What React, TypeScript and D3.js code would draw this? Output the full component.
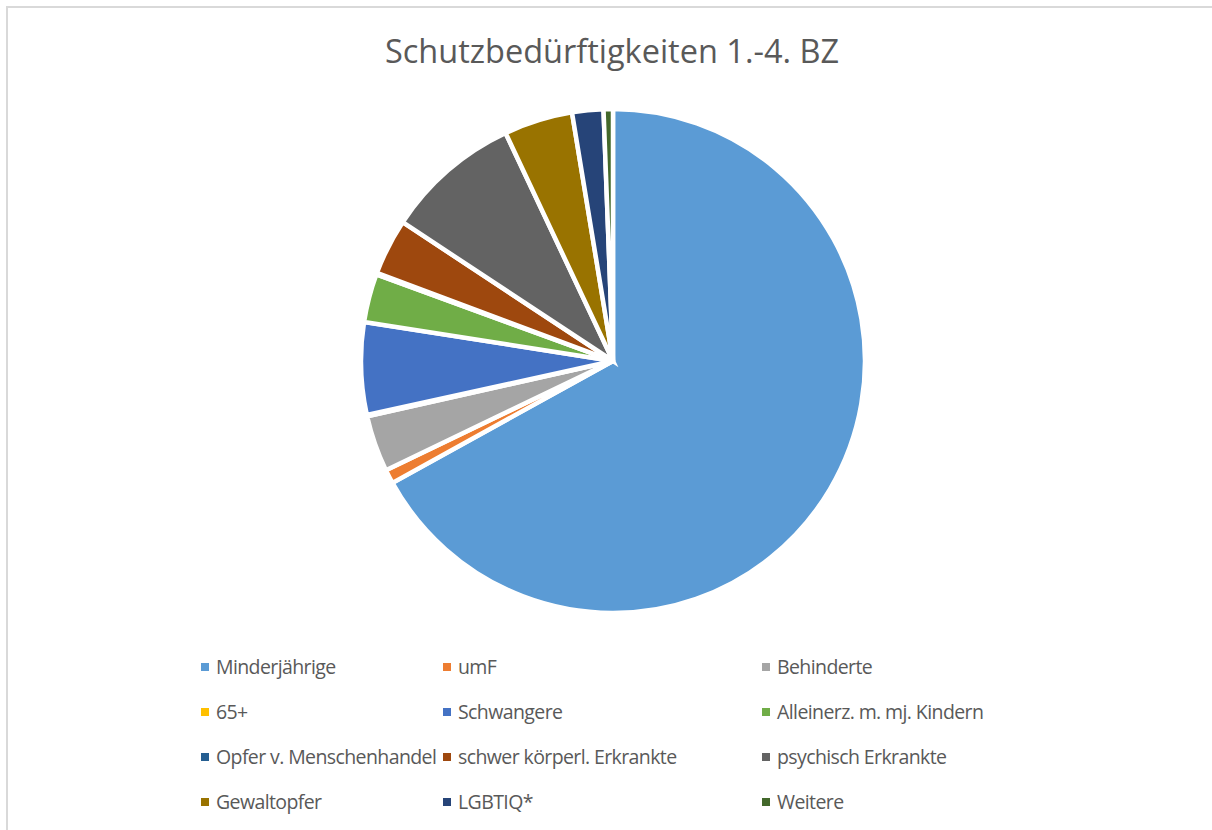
import { useEffect, useRef } from 'react';
import * as d3 from 'd3';

const categories = [
  'Minderjährige', 'umF', 'Behinderte', '65+', 'Schwangere', 'Alleinerz. m. mj. Kindern',
  'Opfer v. Menschenhandel', 'schwer körperl. Erkrankte', 'psychisch Erkrankte',
  'Gewaltopfer', 'LGBTIQ*', 'Weitere',
];
const values = [669, 9, 36, 1, 59, 31, 1, 36, 87, 44, 20, 6];
const colors = [
  '#5B9BD5', '#ED7D31', '#A5A5A5', '#FFC000', '#4472C4', '#70AD47',
  '#255E91', '#9E480E', '#636363', '#997300', '#264478', '#43682B',
];
const title = 'Schutzbedürftigkeiten 1.-4. BZ';

const App = () => {
  const svgRef = useRef(null);

  useEffect(() => {
    const w = 1212;
    const h = 830;
    const svg = d3.select(svgRef.current);
    svg.selectAll('*').remove();
    svg.attr('width', w).attr('height', h);

    // chart frame (cut off at right and bottom)
    svg.append('rect')
      .attr('x', 7).attr('y', 7)
      .attr('width', 1400).attr('height', 1000)
      .attr('fill', '#fff')
      .attr('stroke', '#d9d9d9')
      .attr('stroke-width', 2);

    svg.append('text')
      .attr('x', 612)
      .attr('y', 63)
      .attr('text-anchor', 'middle')
      .style('font-family', '"Open Sans", sans-serif')
      .style('font-size', '32.5px')
      .attr('fill', '#595959')
      .text(title);

    const pie = d3.pie().sort(null).value(d => d)(values);
    const arc = d3.arc().innerRadius(0).outerRadius(252);

    svg.append('g')
      .attr('transform', 'translate(613, 361)')
      .selectAll('path')
      .data(pie)
      .enter().append('path')
      .attr('d', arc)
      .attr('fill', (d, i) => colors[i])
      .attr('stroke', '#fff')
      .attr('stroke-width', 4.5)
      .attr('stroke-linejoin', 'miter');

    // legend: 3 columns x 4 rows
    const colX = [201, 443, 762];
    const rowY = d3.range(4).map(r => 667 + r * 45);
    const legend = svg.append('g')
      .selectAll('g')
      .data(categories)
      .enter().append('g')
      .attr('transform', (d, i) => `translate(${colX[i % 3]}, ${rowY[Math.floor(i / 3)]})`);

    legend.append('rect')
      .attr('x', 0).attr('y', -4)
      .attr('width', 8).attr('height', 8)
      .attr('fill', (d, i) => colors[i]);

    legend.append('text')
      .attr('x', 15)
      .attr('y', 7)
      .style('font-family', '"Open Sans", sans-serif')
      .style('font-size', '19.5px')
      .style('letter-spacing', '-0.6px')
      .attr('fill', '#595959')
      .text(d => d);
  }, []);

  return (
    <svg ref={svgRef} style={{ position: 'absolute', left: 0, top: 0 }}></svg>
  );
};

export default App;
